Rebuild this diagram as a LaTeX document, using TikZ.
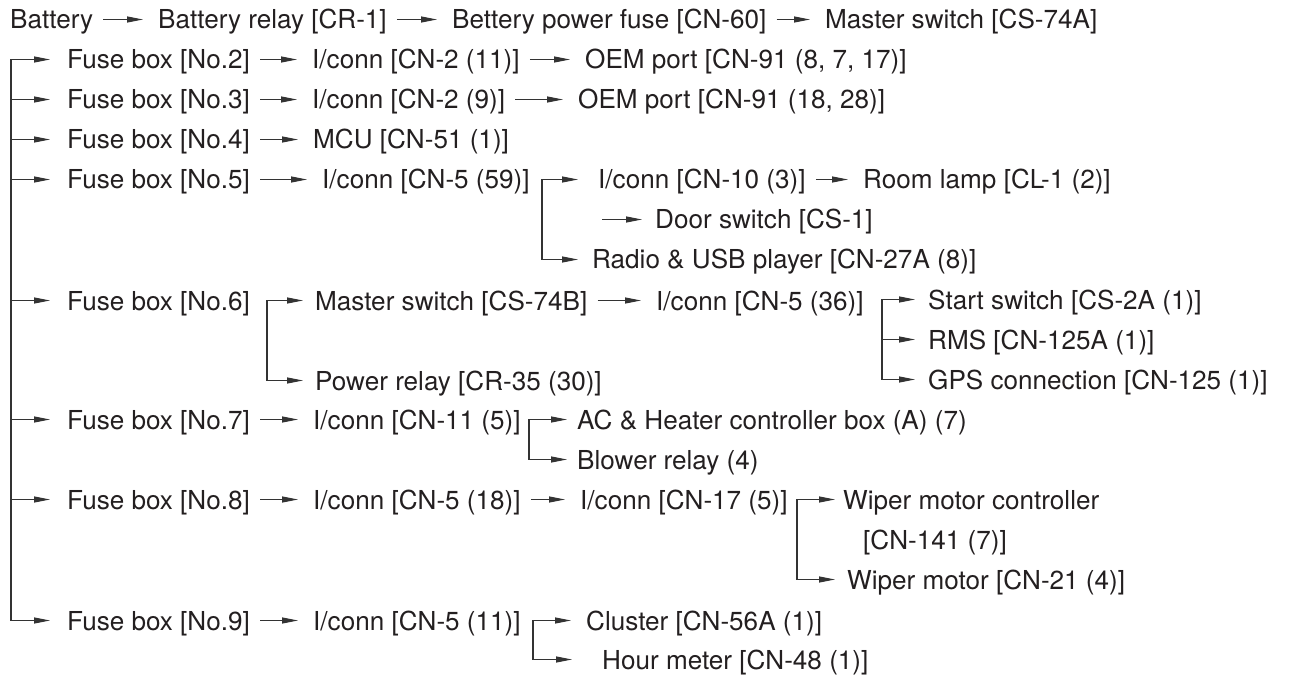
\documentclass[tikz,border=0pt]{standalone}
\usepackage{fontspec}
\setmainfont{TeX Gyre Heros}
\usetikzlibrary{arrows.meta}
\definecolor{txt}{HTML}{231F20}
\definecolor{ln}{HTML}{333333}
\begin{document}
\begin{tikzpicture}[x=1pt,y=1pt,
  lbl/.style={anchor=base west, inner sep=0pt, text height=19pt, text depth=0pt,
              font=\fontsize{26.1}{30}\selectfont, text=txt},
  tip/.style={-{Triangle[length=16pt,width=6pt]}},
  arr/.style={draw=ln, line width=1.1pt, tip, shorten <=10pt, shorten >=15pt},
  barr/.style={draw=ln, line width=1.1pt, tip, shorten >=#1},
  barr/.default=15pt,
  wire/.style={draw=ln, line width=1.1pt, line cap=rect},
]
\useasboundingbox (0,0) rectangle (1289,-676);

% row 0
\node[lbl] (n00) at (10,-29) {Battery};
\node[lbl] (n01) at (158,-29) {Battery relay [CR-1]};
\node[lbl] (n02) at (452,-29) {Bettery power fuse [CN-60]};
\node[lbl] (n03) at (825,-29) {Master switch [CS-74A]};
\draw[arr] (n00.east) -- (n01.west);
\draw[arr] (n01.east) -- (n02.west);
\draw[arr] (n02.east) -- (n03.west);

% row 1
\node[lbl] (f2) at (67,-69) {Fuse box [No.2]};
\node[lbl] (c2) at (312,-69) {I/conn [CN-2 (11)]};
\node[lbl] (o2) at (585,-69) {OEM port [CN-91 (8, 7, 17)]};
\draw[arr] (f2.east) -- (c2.west);
\draw[arr] (c2.east) -- (o2.west);

% row 2
\node[lbl] (f3) at (67,-109) {Fuse box [No.3]};
\node[lbl] (c3) at (312,-109) {I/conn [CN-2 (9)]};
\node[lbl] (o3) at (578,-109) {OEM port [CN-91 (18, 28)]};
\draw[arr] (f3.east) -- (c3.west);
\draw[arr] (c3.east) -- (o3.west);

% row 3
\node[lbl] (f4) at (67,-149) {Fuse box [No.4]};
\node[lbl] (m4) at (313,-149) {MCU [CN-51 (1)]};
\draw[arr] (f4.east) -- (m4.west);

% row 4-6
\node[lbl] (f5) at (67,-189) {Fuse box [No.5]};
\node[lbl] (c5) at (322,-189) {I/conn [CN-5 (59)]};
\node[lbl] (c10) at (598,-189) {I/conn [CN-10 (3)]};
\node[lbl] (rl) at (863,-189) {Room lamp [CL-1 (2)]};
\node[lbl] (ds) at (655,-229) {Door switch [CS-1]};
\node[lbl] (rad) at (592,-269) {Radio \& USB player [CN-27A (8)]};
\draw[arr] (f5.east) -- (c5.west);
\draw[arr] (c10.east) -- (rl.west);
\coordinate (dsS) at (602,-219.5);
\draw[barr=13pt] (dsS) -- (ds.west);
\coordinate (bA) at (542,0);
\draw[wire] (bA |- c10.west) -- (bA |- rad.west);
\draw[barr=20pt] (bA |- c10.west) -- (c10.west);
\draw[barr=14pt] (bA |- rad.west) -- (rad.west);

% row 7-9
\node[lbl] (f6) at (67,-310) {Fuse box [No.6]};
\node[lbl] (ms) at (315,-310) {Master switch [CS-74B]};
\node[lbl] (c36) at (656,-310) {I/conn [CN-5 (36)]};
\node[lbl] (ss) at (928,-309) {Start switch [CS-2A (1)]};
\node[lbl] (rms) at (928,-349) {RMS [CN-125A (1)]};
\node[lbl] (pr) at (315,-390) {Power relay [CR-35 (30)]};
\node[lbl] (gps) at (928,-389) {GPS connection [CN-125 (1)]};
\draw[arr] (ms.east) -- (c36.west);
\coordinate (bB) at (267,0);
\draw[wire] (bB |- ms.west) -- (bB |- pr.west);
\draw[barr=12pt] (bB |- ms.west) -- (ms.west);
\draw[barr=12pt] (bB |- pr.west) -- (pr.west);
\coordinate (bC) at (882,0);
\draw[wire] (bC |- ss.west) -- (bC |- gps.west);
\draw[barr=13pt] (bC |- ss.west) -- (ss.west);
\draw[barr=13pt] (bC |- rms.west) -- (rms.west);
\draw[barr=13pt] (bC |- gps.west) -- (gps.west);

% row 10-11
\node[lbl] (f7) at (67,-429) {Fuse box [No.7]};
\node[lbl] (c11) at (313,-429) {I/conn [CN-11 (5)]};
\node[lbl] (ac) at (577,-429) {AC \& Heater controller box (A) (7)};
\node[lbl] (bl) at (577,-469) {Blower relay (4)};
\draw[arr] (f7.east) -- (c11.west);
\coordinate (bD) at (529,0);
\draw[wire] (bD |- ac.west) -- (bD |- bl.west);
\draw[barr=10pt] (bD |- ac.west) -- (ac.west);
\draw[barr=10pt] (bD |- bl.west) -- (bl.west);

% row 12-14
\node[lbl] (f8) at (67,-509) {Fuse box [No.8]};
\node[lbl] (c18) at (313,-509) {I/conn [CN-5 (18)]};
\node[lbl] (c17) at (580,-509) {I/conn [CN-17 (5)]};
\node[lbl] (wmc) at (843,-509) {Wiper motor controller};
\node[lbl] (wmc2) at (863,-549) {[CN-141 (7)]};
\node[lbl] (wm) at (847,-589) {Wiper motor [CN-21 (4)]};
\draw[arr] (f8.east) -- (c18.west);
\draw[arr] (c18.east) -- (c17.west);
\coordinate (bE) at (797,0);
\draw[wire] (bE |- wmc.west) -- (bE |- wm.west);
\draw[barr=8pt] (bE |- wmc.west) -- (wmc.west);
\draw[barr=12pt] (bE |- wm.west) -- (wm.west);

% row 15-16
\node[lbl] (f9) at (67,-630) {Fuse box [No.9]};
\node[lbl] (c11b) at (313,-630) {I/conn [CN-5 (11)]};
\node[lbl] (cl) at (586,-630) {Cluster [CN-56A (1)]};
\node[lbl] (hm) at (602,-669) {Hour meter [CN-48 (1)]};
\draw[arr] (f9.east) -- (c11b.west);
\coordinate (bF) at (533,0);
\draw[wire] (bF |- cl.west) -- (bF |- hm.west);
\draw[barr=15pt] (bF |- cl.west) -- (cl.west);
\draw[barr=30pt] (bF |- hm.west) -- (hm.west);

% main bracket
\coordinate (bM) at (11,0);
\draw[wire] (bM |- f2.west) -- (bM |- f9.west);
\foreach \f in {f2,f3,f4,f5,f6,f7,f8,f9}
  \draw[barr=17pt] (bM |- \f.west) -- (\f.west);
\end{tikzpicture}
\end{document}
